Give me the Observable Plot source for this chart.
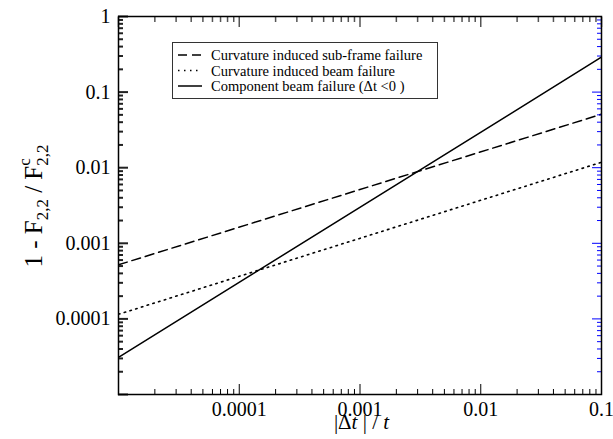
<!DOCTYPE html>
<html>
<head>
<meta charset="utf-8">
<script src="https://cdn.jsdelivr.net/npm/d3@7"></script>
<script src="https://cdn.jsdelivr.net/npm/@observablehq/plot@0.6"></script>
<style>
  html, body { margin: 0; padding: 0; background: white; }
</style>
</head>
<body>
<div id="chart"></div>
<script>
// x endpoints of the three straight (power-law) lines
const xEnds = [1e-5, 0.1];
// series values at those endpoints
const subFrame = [5.2e-4, 0.051];   // Curvature induced sub-frame failure
const beam = [1.15e-4, 0.0118];     // Curvature induced beam failure
const component = [3.1e-5, 0.29];   // Component beam failure (Δt <0 )

const seriesNames = [
  "Curvature induced sub-frame failure",
  "Curvature induced beam failure",
  "Component beam failure"
];

// tick values and labels
const xTicks = [1e-4, 1e-3, 1e-2, 1e-1];
const xTickLabels = ["0.0001", "0.001", "0.01", "0.1"];
const yTicks = [1, 0.1, 0.01, 0.001, 0.0001];
const yTickLabels = ["1", "0.1", "0.01", "0.001", "0.0001"];

const xMajor = [1e-5, 1e-4, 1e-3, 1e-2, 1e-1];
const yMajor = [1e-5, 1e-4, 1e-3, 1e-2, 1e-1, 1];
const minorMult = [2, 3, 4, 5, 6, 7, 8, 9];
const xMinor = [1e-5, 1e-4, 1e-3, 1e-2].flatMap(d => minorMult.map(m => d * m));
const yMinor = [1e-5, 1e-4, 1e-3, 1e-2, 1e-1].flatMap(d => minorMult.map(m => d * m));

const toRows = ys => xEnds.map((x, i) => ({x, y: ys[i]}));

const W = 613, H = 439, ML = 118, MR = 12, MT = 16, MB = 45;
const FW = W - ML - MR, FH = H - MT - MB;
const font = "'Liberation Serif', 'Times New Roman', serif";
const none = () => "";

// inward tick marks (negative tick size points into the frame)
const tickAxes = [
  Plot.axisX({anchor: "bottom", ticks: xMajor, tickSize: -10, tickFormat: none, label: null, stroke: "#000", strokeWidth: 1}),
  Plot.axisX({anchor: "bottom", ticks: xMinor, tickSize: -5, tickFormat: none, label: null, stroke: "#000", strokeWidth: 1}),
  Plot.axisX({anchor: "top", ticks: xMajor, tickSize: -10, tickFormat: none, label: null, stroke: "#555", strokeWidth: 1.5}),
  Plot.axisX({anchor: "top", ticks: xMinor, tickSize: -5, tickFormat: none, label: null, stroke: "#555", strokeWidth: 1.5}),
  Plot.axisY({anchor: "left", ticks: yMajor, tickSize: -10, tickFormat: none, label: null, stroke: "#222", strokeWidth: 2}),
  Plot.axisY({anchor: "left", ticks: yMinor, tickSize: -5, tickFormat: none, label: null, stroke: "#222", strokeWidth: 2}),
  Plot.axisY({anchor: "right", ticks: yMajor, tickSize: -10, tickFormat: none, label: null, stroke: "blue", strokeWidth: 1}),
  Plot.axisY({anchor: "right", ticks: yMinor, tickSize: -5, tickFormat: none, label: null, stroke: "blue", strokeWidth: 1})
];

const svg = Plot.plot({
  width: W, height: H,
  marginLeft: ML, marginRight: MR, marginTop: MT, marginBottom: MB,
  style: {fontFamily: font, fontSize: "20px", color: "black", background: "white"},
  x: {type: "log", domain: [1e-5, 0.1]},
  y: {type: "log", domain: [1e-5, 1]},
  marks: [
    Plot.line(toRows(subFrame), {x: "x", y: "y", stroke: "black", strokeWidth: 1.5, strokeDasharray: "9,5", clip: "frame"}),
    Plot.line(toRows(beam), {x: "x", y: "y", stroke: "black", strokeWidth: 1.6, strokeDasharray: "1.5,4.5", clip: "frame"}),
    Plot.line(toRows(component), {x: "x", y: "y", stroke: "black", strokeWidth: 1.5, clip: "frame"}),
    ...tickAxes,
    Plot.axisX({ticks: xTicks, tickFormat: d => xTickLabels[xTicks.indexOf(d)], tickSize: 0, tickPadding: 7, label: null}),
    Plot.axisY({ticks: yTicks, tickFormat: d => yTickLabels[yTicks.indexOf(d)], tickSize: 0, tickPadding: 8, label: null}),
    Plot.frame({stroke: "black", strokeWidth: 1.5})
  ]
});

const s = d3.select(svg);

// x-axis label: |Δt | / t
const xl = s.append("text")
  .attr("x", ML + FW / 2 + 2).attr("y", 429)
  .attr("text-anchor", "middle")
  .style("font-family", font).style("font-size", "21px").attr("fill", "black");
xl.append("tspan").text("|Δ");
xl.append("tspan").style("font-style", "italic").text("t");
xl.append("tspan").text(" | / ");
xl.append("tspan").style("font-style", "italic").text("t");

// y-axis label: 1 - F_{2,2} / F^c_{2,2}
const yl = s.append("text")
  .attr("transform", `translate(42, 206) rotate(-90)`)
  .attr("text-anchor", "middle")
  .style("font-family", font).style("font-size", "25px").attr("fill", "black");
yl.append("tspan").text("1 - F");
yl.append("tspan").attr("dy", 6).style("font-size", "17px").text("2,2");
yl.append("tspan").attr("dy", -6).text(" / F");
yl.append("tspan").attr("dy", -12).style("font-size", "17px").text("c");
yl.append("tspan").attr("dy", 18).attr("dx", -7.5).style("font-size", "17px").text("2,2");

// legend
const lg = s.append("g");
lg.append("rect").attr("x", 172.5).attr("y", 42.5).attr("width", 265).attr("height", 56)
  .attr("fill", "white").attr("stroke", "#333").attr("stroke-width", 1);
const styles = [
  {dash: "9,5", w: 1.5},
  {dash: "1.5,4.5", w: 1.6},
  {dash: null, w: 1.5}
];
const rowsY = [55, 70.5, 86];
seriesNames.forEach((name, i) => {
  lg.append("line").attr("x1", 178).attr("x2", 202).attr("y1", rowsY[i]).attr("y2", rowsY[i])
    .attr("stroke", "black").attr("stroke-width", styles[i].w)
    .attr("stroke-dasharray", styles[i].dash);
  const t = lg.append("text").attr("x", 211).attr("y", rowsY[i] + 5)
    .attr("text-anchor", "start")
    .style("font-family", font).style("font-size", "14.5px").attr("fill", "black").text(name);
  if (i === 2) {
    t.append("tspan").text(" (Δt <0 )");
  }
});

document.getElementById("chart").appendChild(svg);
</script>
</body>
</html>
